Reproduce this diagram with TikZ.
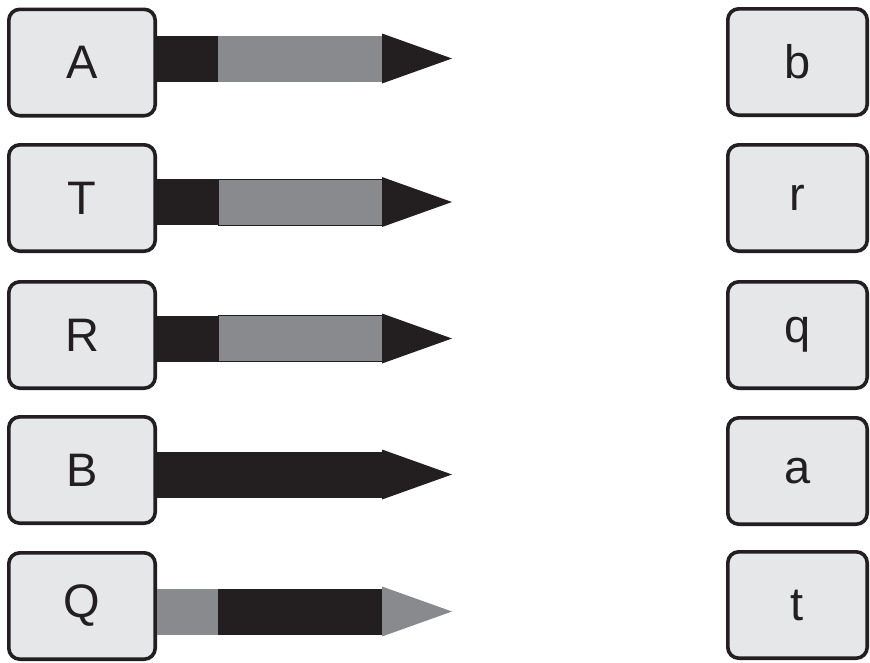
\documentclass[tikz,border=0pt]{standalone}
\usepackage{fontspec}
\setmainfont{Liberation Sans}
\definecolor{boxfill}{HTML}{E6E7E8}
\definecolor{ink}{HTML}{231F20}
\definecolor{mid}{HTML}{898A8D}
\newcommand\sarrow[5]{%
  \coordinate (#1tip) at (452,#2);
  \fill[#3] (157,#2-23) rectangle (218,#2+23);
  \fill[#4] (218,#2-23) rectangle (382,#2+23);
  \fill[#5] (382,#2-25) -- (#1tip) -- (382,#2+25) -- cycle;
}
\begin{document}
\begin{tikzpicture}[x=1pt,y=-1pt,
  lbl/.style={draw=ink, line width=3.6pt, fill=boxfill, rounded corners=11pt,
    minimum width=146.4pt, minimum height=106.4pt, inner sep=0pt,
    font=\fontsize{47}{47}\selectfont, text=ink},
  rlbl/.style={lbl, minimum width=139.4pt},
  grayseg/.style={mid, draw=ink, line width=.6pt}]
\useasboundingbox (0,0) rectangle (870,662);
% left boxes
\node[lbl] (A) at (82,62.5) {A};
\node[lbl] (T) at (82,198) {T};
\node[lbl] (R) at (82,335) {R};
\node[lbl] (B) at (82,470) {B};
\node[lbl] (Q) at (82,606) {Q};
% right boxes
\node[rlbl] (b) at (797.5,62) {b};
\node[rlbl] (r) at (797.5,198) {r};
\node[rlbl] (q) at (797.5,335) {q};
\node[rlbl] (a) at (797.5,471) {a};
\node[rlbl] (t) at (797.5,605) {t};
% arrows
\sarrow{A}{58.5}{ink}{mid}{ink}
\sarrow{T}{202}{ink}{grayseg}{ink}
\sarrow{R}{338.5}{ink}{grayseg}{ink}
\sarrow{B}{474.5}{ink}{ink}{ink}
\sarrow{Q}{611.5}{mid}{ink}{mid}
\end{tikzpicture}
\end{document}
